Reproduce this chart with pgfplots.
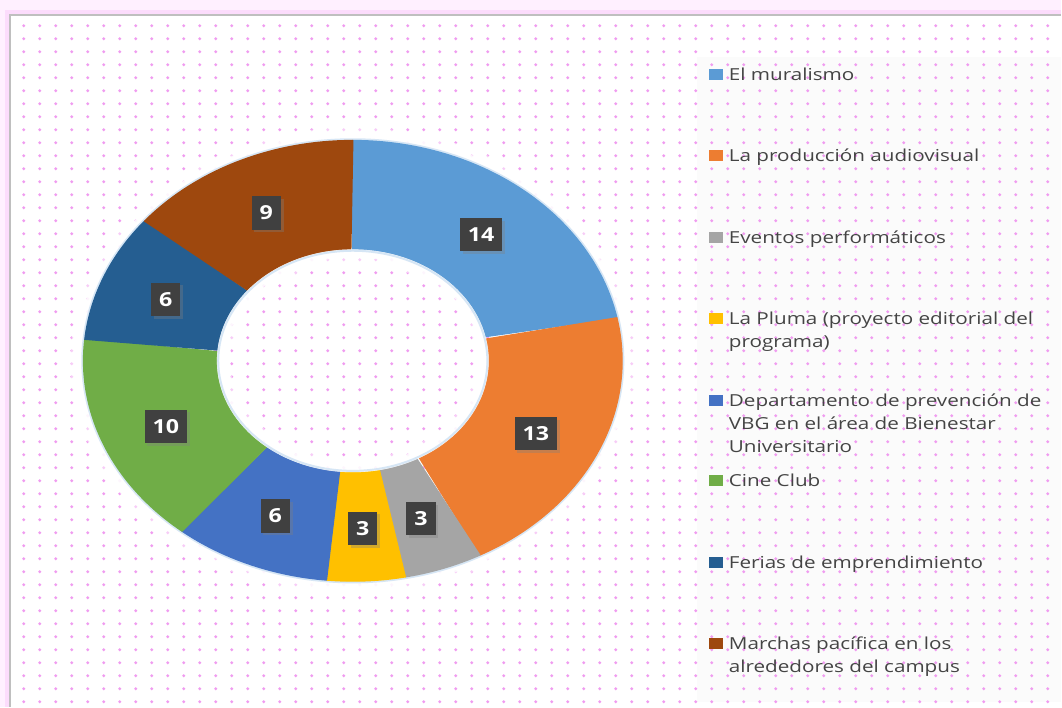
\documentclass[border=0pt]{standalone}
\usepackage{pgfplots}
\pgfplotsset{compat=1.18}
\usepackage{fontspec}
\setmainfont{Open Sans}
\usetikzlibrary{patterns,shadows}

\pgfdeclarepatternformonly{pinkdots}{\pgfqpoint{0pt}{0pt}}{\pgfqpoint{11.85pt}{9.9pt}}{\pgfqpoint{11.85pt}{9.9pt}}{\pgfpathcircle{\pgfqpoint{5.9pt}{4.95pt}}{1.25pt}\pgfusepath{fill}}

\definecolor{cA}{HTML}{5B9BD5}
\definecolor{cB}{HTML}{ED7D31}
\definecolor{cC}{HTML}{A5A5A5}
\definecolor{cD}{HTML}{FFC000}
\definecolor{cE}{HTML}{4472C4}
\definecolor{cF}{HTML}{70AD47}
\definecolor{cG}{HTML}{255E91}
\definecolor{cH}{HTML}{9E480E}
\definecolor{dotc}{HTML}{F09CF0}
\definecolor{lbl}{HTML}{404040}
\definecolor{legtxt}{HTML}{444444}
\definecolor{pinkA}{HTML}{FFF0FF}
\definecolor{pinkB}{HTML}{FCDCFC}
\definecolor{haloB}{HTML}{D6E6F5}

% total = 64 ; centre (353,361) px ; outer radii 270 x 221 px ; inner 135 x 110.5 px
% #1 colour, #2 cumulative count before slice, #3 value of slice
% parameter t in [0,1]: outer arc forward ; t in (1,2]: inner arc backward
\newcommand{\ringslice}[3]{%
  \addplot[fill=#1, draw=#1, line width=1pt, line join=round, mark=none, domain=0:2, samples=121, variable=\t]
    ({353+(\t<1.0001 ? 269.4 : 135.4)*cos(\t<1.0001 ? (90-360*(#2)/64)-(360*(#3)/64)*\t : (90-360*(#2+#3)/64)+(360*(#3)/64)*(\t-1))},
     {361-(\t<1.0001 ? 220.4 : 110.9)*sin(\t<1.0001 ? (90-360*(#2)/64)-(360*(#3)/64)*\t : (90-360*(#2+#3)/64)+(360*(#3)/64)*(\t-1))})
    -- cycle;
}
\newcommand{\slicelabel}[2]{%
  \node[fill=lbl, text=white, font=\bfseries\fontsize{14.5}{16}\selectfont, minimum height=25pt, inner xsep=6pt, inner ysep=2pt,
        drop shadow={shadow xshift=2pt, shadow yshift=-2pt, opacity=0.35}]
    at (axis cs:{353+202.5*cos(90-360*(#1+#2/2)/64)},{363-165.75*sin(90-360*(#1+#2/2)/64)}) {\scalebox{1.2}[1]{#2}};
}
\newcommand{\legsq}[2]{\fill[#1] (axis cs:709,{#2-11.5}) rectangle (axis cs:723,{#2-0.5});}
\newcommand{\legline}[2]{\node[anchor=base west, text=legtxt, font=\fontsize{12.4}{14}\selectfont, inner sep=0pt] at (axis cs:729,#1) {\scalebox{1.25}[1]{#2}};}

\begin{document}
\begin{tikzpicture}
\begin{axis}[scale only axis, width=796.5pt, height=530.25pt,
  xmin=0, xmax=1062, ymin=0, ymax=707, y dir=reverse, hide axis, clip=false]

% background and frame
\fill[pinkA] (axis cs:0,0) rectangle (axis cs:1062,707);
\fill[pinkB] (axis cs:5,10) rectangle (axis cs:1062,707);
\fill[white] (axis cs:10,15) rectangle (axis cs:1062,707);
\fill[black!1.5] (axis cs:697,57) rectangle (axis cs:1062,702);
\fill[pattern=pinkdots, pattern color=dotc] (axis cs:11,16) rectangle (axis cs:1062,707);
\draw[black!25, line width=0.9pt] (axis cs:10,707) -- (axis cs:10,15) -- (axis cs:1062,15);

% soft halo around the ring
\draw[white, line width=12pt, opacity=0.5] (axis cs:353,361) ellipse[x radius=206pt, y radius=169.25pt];
\draw[white, line width=7pt, opacity=0.8] (axis cs:353,361) ellipse[x radius=204pt, y radius=167.25pt];
\draw[haloB, line width=2.5pt] (axis cs:353,361) ellipse[x radius=202.5pt, y radius=165.75pt];

% slices: El muralismo 14, La producción audiovisual 13, Eventos performáticos 3,
% La Pluma 3, Departamento VBG 6, Cine Club 10, Ferias 6, Marchas 9
\ringslice{cA}{0}{14}
\ringslice{cB}{14}{13}
\ringslice{cC}{27}{3}
\ringslice{cD}{30}{3}
\ringslice{cE}{33}{6}
\ringslice{cF}{39}{10}
\ringslice{cG}{49}{6}
\ringslice{cH}{55}{9}

% inner halo
\draw[white, line width=10pt, opacity=0.5] (axis cs:353,361) ellipse[x radius=97pt, y radius=78.6pt];
\draw[white, line width=6pt, opacity=0.8] (axis cs:353,361) ellipse[x radius=99pt, y radius=80.6pt];
\draw[haloB, line width=1.5pt] (axis cs:353,361) ellipse[x radius=101pt, y radius=82.6pt];

% value labels
\slicelabel{0}{14}
\slicelabel{14}{13}
\slicelabel{27}{3}
\slicelabel{30}{3}
\slicelabel{33}{6}
\slicelabel{39}{10}
\slicelabel{49}{6}
\slicelabel{55}{9}

% legend
\legsq{cA}{80.7}   \legline{80.7}{El muralismo}
\legsq{cB}{162}    \legline{162}{La producción audiovisual}
\legsq{cC}{243.3}  \legline{243.3}{Eventos performáticos}
\legsq{cD}{324.6}  \legline{324.6}{La Pluma (proyecto editorial del}
                   \legline{347.6}{programa)}
\legsq{cE}{407}    \legline{407}{Departamento de prevención de}
                   \legline{430}{VBG en el área de Bienestar}
                   \legline{453}{Universitario}
\legsq{cF}{487.2}  \legline{487.2}{Cine Club}
\legsq{cG}{568.5}  \legline{568.5}{Ferias de emprendimiento}
\legsq{cH}{649.8}  \legline{649.8}{Marchas pacífica en los}
                   \legline{672.8}{alrededores del campus}
\end{axis}
\end{tikzpicture}
\end{document}
